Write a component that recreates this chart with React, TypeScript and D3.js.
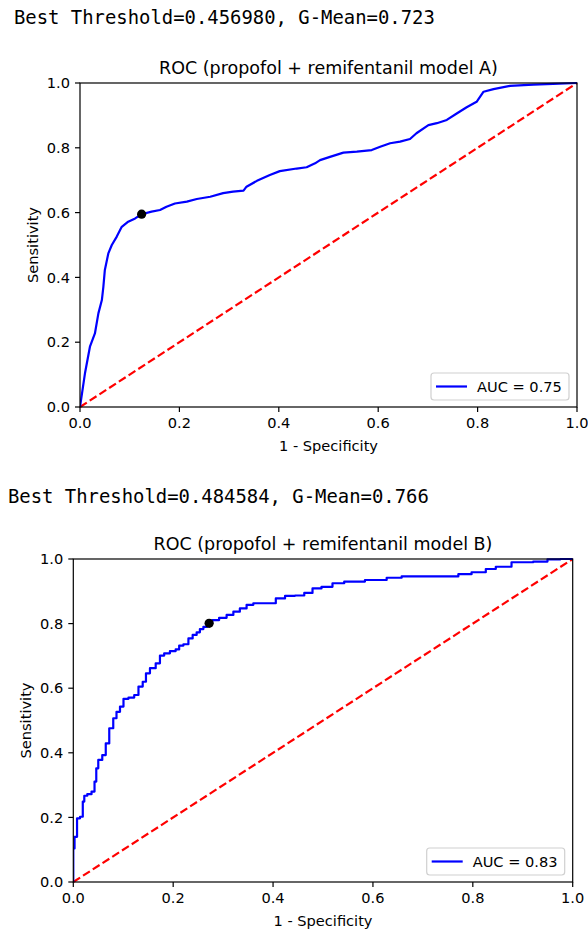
import React from "react";
import * as d3 from "d3";

// ---- Data ----
const tickValues = [0, 0.2, 0.4, 0.6, 0.8, 1.0];

const headerA = "Best Threshold=0.456980, G-Mean=0.723";
const headerB = "Best Threshold=0.484584, G-Mean=0.766";
const titleA = "ROC (propofol + remifentanil model A)";
const titleB = "ROC (propofol + remifentanil model B)";
const legendA = "AUC = 0.75";
const legendB = "AUC = 0.83";

const fprA = [0, 0.010, 0.020, 0.030, 0.037, 0.044, 0.047, 0.050, 0.057, 0.064, 0.074, 0.084, 0.097, 0.111, 0.124, 0.144, 0.161, 0.174, 0.191, 0.215, 0.235, 0.262, 0.288, 0.308, 0.329, 0.335, 0.356, 0.382, 0.402, 0.436, 0.456, 0.473, 0.483, 0.503, 0.530, 0.557, 0.587, 0.604, 0.624, 0.644, 0.664, 0.677, 0.701, 0.718, 0.738, 0.758, 0.778, 0.798, 0.812, 0.832, 0.865, 0.912, 0.952, 1.0];
const tprA = [0, 0.104, 0.186, 0.227, 0.289, 0.330, 0.371, 0.423, 0.474, 0.500, 0.526, 0.556, 0.572, 0.582, 0.595, 0.603, 0.608, 0.618, 0.628, 0.634, 0.642, 0.649, 0.660, 0.665, 0.668, 0.680, 0.698, 0.716, 0.728, 0.736, 0.740, 0.752, 0.762, 0.772, 0.785, 0.788, 0.793, 0.803, 0.814, 0.819, 0.827, 0.845, 0.870, 0.876, 0.886, 0.906, 0.925, 0.942, 0.973, 0.981, 0.991, 0.995, 0.997, 1.0];
const bestA = [0.124, 0.595];

const fprB = [0, 0, 0.005, 0.010, 0.017, 0.021, 0.023, 0.033, 0.040, 0.045, 0.047, 0.053, 0.063, 0.067, 0.077, 0.083, 0.090, 0.097, 0.104, 0.117, 0.127, 0.134, 0.144, 0.147, 0.160, 0.170, 0.177, 0.187, 0.200, 0.210, 0.214, 0.227, 0.234, 0.244, 0.250, 0.257, 0.264, 0.272, 0.284, 0.300, 0.314, 0.327, 0.340, 0.354, 0.367, 0.397, 0.414, 0.434, 0.454, 0.471, 0.487, 0.507, 0.531, 0.554, 0.614, 0.641, 0.674, 0.768, 0.774, 0.821, 0.831, 0.861, 0.894, 0.948, 0.951, 1.0];
const tprB = [0, 0.104, 0.140, 0.197, 0.202, 0.249, 0.267, 0.272, 0.280, 0.311, 0.352, 0.378, 0.393, 0.429, 0.476, 0.507, 0.527, 0.543, 0.567, 0.571, 0.579, 0.605, 0.620, 0.646, 0.662, 0.677, 0.701, 0.708, 0.715, 0.720, 0.732, 0.736, 0.754, 0.765, 0.773, 0.783, 0.790, 0.801, 0.811, 0.818, 0.827, 0.837, 0.847, 0.858, 0.863, 0.863, 0.878, 0.886, 0.887, 0.895, 0.909, 0.914, 0.925, 0.930, 0.935, 0.942, 0.946, 0.946, 0.953, 0.959, 0.969, 0.976, 0.990, 0.992, 0.999, 1.0];
const bestB = [0.272, 0.801];

const SANS = "'DejaVu Sans', sans-serif";
const MONO = "'DejaVu Sans Mono', monospace";
const FS = 14.6;

type Frame = { left: number; right: number; top: number; bottom: number };

function RocChart(props: {
  frame: Frame;
  fpr: number[];
  tpr: number[];
  best: number[];
  title: string;
  legend: string;
  stepped: boolean;
  id: string;
}) {
  const { frame, fpr, tpr, best, title, legend, stepped, id } = props;
  const x = d3.scaleLinear().domain([0, 1]).range([frame.left, frame.right]);
  const y = d3.scaleLinear().domain([0, 1]).range([frame.bottom, frame.top]);
  const pts: [number, number][] = fpr.map((f, i) => [f, tpr[i]]);
  const line = d3
    .line<[number, number]>()
    .x((d) => x(d[0]))
    .y((d) => y(d[1]))
    .curve(stepped ? d3.curveStep : d3.curveLinear);
  const fmt = d3.format(".1f");
  const cx = (frame.left + frame.right) / 2;
  const cy = (frame.top + frame.bottom) / 2;
  const legW = 138;
  const legH = 27;
  const legR = frame.right - 8;
  const legB = frame.bottom - 7;
  return (
    <g>
      <text x={cx} y={frame.top - 9} textAnchor="middle" fontFamily={SANS} fontSize={17.5} fill="#000">
        {title}
      </text>
      <clipPath id={"clip" + id}>
        <rect x={frame.left} y={frame.top - 2} width={frame.right - frame.left + 2} height={frame.bottom - frame.top + 2} />
      </clipPath>
      <line
        x1={x(0)}
        y1={y(0)}
        x2={x(1)}
        y2={y(1)}
        stroke="#ff0000"
        strokeWidth={2.2}
        strokeDasharray="8.1,3.5"
      />
      <path d={line(pts) || ""} fill="none" stroke="#0000ff" strokeWidth={2.2} strokeLinejoin="round" clipPath={`url(#clip${id})`} />
      <circle cx={x(best[0])} cy={y(best[1])} r={4.6} fill="#000" />
      <rect x={frame.left} y={frame.top} width={frame.right - frame.left} height={frame.bottom - frame.top} fill="none" stroke="#000" strokeWidth={1.2} />
      {tickValues.map((t) => (
        <g key={"x" + t}>
          <line x1={x(t)} x2={x(t)} y1={frame.bottom} y2={frame.bottom + 5} stroke="#000" strokeWidth={1.2} />
          <text x={x(t)} y={frame.bottom + 10} dy="0.76em" textAnchor="middle" fontFamily={SANS} fontSize={FS} fill="#000">
            {fmt(t)}
          </text>
        </g>
      ))}
      {tickValues.map((t) => (
        <g key={"y" + t}>
          <line x1={frame.left - 5} x2={frame.left} y1={y(t)} y2={y(t)} stroke="#000" strokeWidth={1.2} />
          <text x={frame.left - 10} y={y(t)} dy="0.36em" textAnchor="end" fontFamily={SANS} fontSize={FS} fill="#000">
            {fmt(t)}
          </text>
        </g>
      ))}
      <text x={cx} y={frame.bottom + 44} textAnchor="middle" fontFamily={SANS} fontSize={FS} fill="#000">
        1 - Specificity
      </text>
      <text
        transform={`translate(${frame.left - 42},${cy}) rotate(-90)`}
        textAnchor="middle"
        fontFamily={SANS}
        fontSize={FS}
        fill="#000"
      >
        Sensitivity
      </text>
      <rect x={legR - legW} y={legB - legH} width={legW} height={legH} rx={3} fill="#fff" fillOpacity={0.8} stroke="#d0d0d0" strokeWidth={1.2} />
      <line x1={legR - legW + 5} x2={legR - legW + 36} y1={legB - legH / 2} y2={legB - legH / 2} stroke="#0000ff" strokeWidth={2.2} />
      <text x={legR - legW + 46} y={legB - legH / 2} dy="0.36em" fontFamily={SANS} fontSize={FS} fill="#000">
        {legend}
      </text>
    </g>
  );
}

export default function App() {
  const frameA: Frame = { left: 80, right: 577, top: 83, bottom: 407 };
  const frameB: Frame = { left: 73.3, right: 572.7, top: 559, bottom: 882 };
  return (
    <svg width={588} height={933} style={{ position: "absolute", left: 0, top: 0, background: "#fff" }}>
      <rect x={0} y={0} width={588} height={933} fill="#fff" />
      <text x={14} y={24} fontFamily={MONO} fontSize={18.9} fill="#000">
        {headerA}
      </text>
      <RocChart frame={frameA} fpr={fprA} tpr={tprA} best={bestA} title={titleA} legend={legendA} stepped={false} id="A" />
      <text x={8} y={503} fontFamily={MONO} fontSize={18.9} fill="#000">
        {headerB}
      </text>
      <RocChart frame={frameB} fpr={fprB} tpr={tprB} best={bestB} title={titleB} legend={legendB} stepped={true} id="B" />
    </svg>
  );
}
